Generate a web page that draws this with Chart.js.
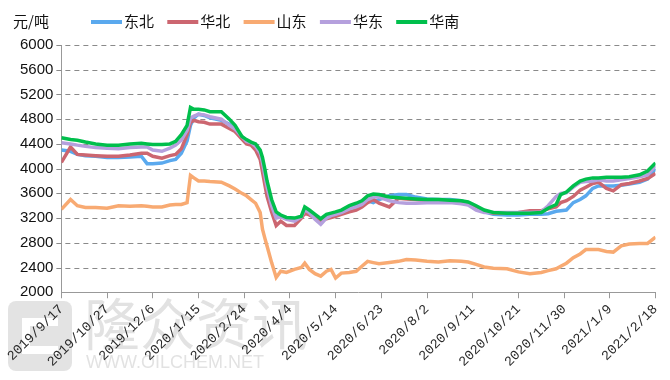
<!DOCTYPE html>
<html><head><meta charset="utf-8">
<script src="https://cdn.jsdelivr.net/npm/chart.js@4.4.1/dist/chart.umd.min.js"></script>
<style>html,body{margin:0;padding:0;background:#fff}#wrap{width:670px;height:380px}</style>
</head><body><div id="wrap"><canvas id="c" width="670" height="380"></canvas></div>
<script>
const unitLabel = '元/吨';
const seriesNames = ['东北', '华北', '山东', '华东', '华南'];
const tickLabels = ['2019/9/17','2019/10/27','2019/12/6','2020/1/15','2020/2/24','2020/4/4','2020/5/14','2020/6/23','2020/8/2','2020/9/11','2020/10/21','2020/11/30','2021/1/9','2021/2/18'];
// day offsets from 2019/9/17
const days = [0,8,14,21,30,40,50,60,70,75,80,88,95,100,105,110,113,116,120,125,130,140,147,152,158,162,166,170,174,176,178,180,184,188,192,197,204,210,213,217,222,227,232,236,240,245,252,258,263,268,273,278,287,295,302,310,320,330,340,350,356,363,370,378,390,400,410,420,426,433,437,442,448,454,459,465,470,477,483,490,497,506,513,520];
const dongbei = [4300,4280,4230,4210,4200,4180,4180,4190,4200,4080,4080,4090,4130,4150,4250,4450,4700,4820,4880,4860,4820,4780,4720,4620,4500,4420,4400,4330,4200,4050,3850,3650,3400,3250,3220,3200,3170,3220,3320,3300,3220,3150,3220,3260,3280,3300,3380,3400,3420,3480,3450,3500,3560,3580,3580,3540,3510,3500,3500,3480,3440,3350,3300,3260,3250,3250,3260,3260,3270,3310,3320,3330,3450,3500,3560,3680,3720,3720,3720,3730,3750,3780,3830,4000];
const huabei = [4100,4350,4230,4220,4210,4200,4200,4220,4250,4250,4200,4170,4210,4230,4320,4550,4750,4780,4760,4750,4720,4720,4650,4600,4480,4400,4380,4300,4150,3950,3750,3550,3300,3080,3150,3080,3080,3200,3280,3250,3200,3150,3190,3210,3230,3260,3300,3330,3380,3450,3500,3440,3380,3520,3510,3500,3480,3480,3480,3460,3450,3370,3310,3280,3280,3290,3320,3320,3350,3380,3450,3480,3550,3650,3700,3760,3780,3680,3640,3740,3760,3800,3840,3920];
const shandong = [3340,3500,3400,3370,3370,3360,3400,3390,3400,3390,3380,3380,3410,3420,3420,3450,3890,3850,3800,3800,3790,3780,3720,3670,3600,3560,3500,3440,3290,3020,2880,2750,2480,2240,2340,2320,2370,2400,2470,2370,2300,2260,2340,2370,2230,2310,2320,2340,2420,2500,2480,2460,2480,2500,2530,2520,2500,2490,2510,2500,2490,2450,2410,2390,2380,2330,2300,2320,2350,2380,2420,2470,2560,2620,2690,2690,2690,2660,2650,2750,2780,2790,2790,2890];
const huadong = [4420,4400,4380,4360,4340,4330,4320,4340,4350,4350,4300,4280,4330,4380,4460,4620,4820,4850,4880,4870,4840,4800,4700,4640,4520,4440,4420,4360,4250,4100,3900,3700,3400,3200,3220,3180,3150,3220,3330,3290,3180,3100,3200,3240,3260,3290,3350,3380,3420,3500,3540,3540,3480,3450,3440,3440,3450,3450,3450,3430,3410,3330,3290,3290,3290,3290,3290,3300,3400,3550,3600,3610,3700,3780,3790,3800,3820,3800,3800,3820,3840,3870,3900,4050];
const huanan = [4500,4470,4460,4430,4400,4380,4380,4400,4410,4400,4390,4390,4400,4440,4550,4700,4990,4960,4960,4950,4920,4920,4800,4700,4520,4470,4430,4400,4300,4180,4000,3800,3500,3300,3250,3210,3200,3230,3380,3330,3260,3190,3260,3280,3300,3330,3400,3440,3480,3560,3590,3580,3540,3530,3520,3510,3500,3500,3490,3480,3460,3400,3330,3290,3280,3280,3280,3290,3360,3420,3580,3620,3720,3800,3830,3850,3850,3860,3860,3860,3870,3900,3960,4090];
const yTicks = [2000,2400,2800,3200,3600,4000,4400,4800,5200,5600,6000];

const colors = ['#5aa9ee', '#cc6670', '#f8aa72', '#b5a0dd', '#00bf4c'];
const seriesValues = [dongbei, huabei, shandong, huadong, huanan];
const drawOrder = [5, 4, 3, 2, 1];

const datasets = seriesValues.map((vals, i) => ({
  label: seriesNames[i],
  data: days.map((d, k) => ({x: d, y: vals[k]})),
  borderColor: colors[i],
  backgroundColor: colors[i],
  borderWidth: 3.5,
  pointRadius: 0,
  tension: 0,
  order: drawOrder[i]
}));

const decor = {
  id: 'decor',
  beforeDraw(chart) {
    const ctx = chart.ctx;
    ctx.save();
    ctx.fillStyle = 'rgba(200,200,200,0.5)';
    ctx.beginPath();
    if (ctx.roundRect) ctx.roundRect(8, 301, 64, 70, 8); else ctx.rect(8, 301, 64, 70);
    ctx.fill();
    ctx.fillStyle = '#fff';
    ctx.fillRect(22, 318, 36, 8);
    ctx.fillRect(22, 318, 8, 36);
    ctx.fillRect(22, 346, 36, 8);
    ctx.fillStyle = 'rgba(190,190,190,0.45)';
    ctx.font = '56px "Noto Sans CJK SC"';
    ctx.textBaseline = 'alphabetic';
    ctx.fillText('隆众资讯', 84, 345);
    ctx.font = '18px "Liberation Sans"';
    ctx.fillText('WWW.OILCHEM.NET', 86, 368);
    ctx.restore();
  },
  beforeDatasetsDraw(chart) {
    // dashed horizontal gridlines at the y-axis ticks
    const ctx = chart.ctx, ys = chart.scales.y, area = chart.chartArea;
    ctx.save();
    ctx.strokeStyle = '#8a8a8a';
    ctx.lineWidth = 1;
    ctx.setLineDash([5, 4]);
    ys.ticks.forEach(t => {
      if (t.value === 2000) return;
      const y = Math.round(ys.getPixelForValue(t.value)) + 0.5;
      ctx.beginPath();
      ctx.moveTo(area.left - 5, y);
      ctx.lineTo(area.right, y);
      ctx.stroke();
    });
    ctx.restore();
  },
  afterDraw(chart) {
    const ctx = chart.ctx;
    ctx.save();
    ctx.textBaseline = 'middle';
    ctx.font = '15px "Noto Sans CJK SC"';
    ctx.fillStyle = '#111';
    ctx.fillText(unitLabel, 13, 21);
    const x0 = 91, step = 76.3;
    chart.data.datasets.forEach((ds, i) => {
      const x = x0 + i * step;
      ctx.fillStyle = ds.borderColor;
      ctx.fillRect(x, 20, 31, 4);
      ctx.fillStyle = '#111';
      ctx.fillText(ds.label, x + 33, 21);
    });
    ctx.restore();
  }
};

new Chart(document.getElementById('c'), {
  type: 'line',
  data: { datasets },
  options: {
    responsive: false,
    animation: false,
    devicePixelRatio: 1,
    layout: { padding: { top: 45, left: 12, right: 7, bottom: 7 } },
    plugins: { legend: { display: false }, tooltip: { enabled: false } },
    scales: {
      x: {
        type: 'linear',
        min: 0, max: 520,
        afterBuildTicks: (axis) => { axis.ticks = tickLabels.map((_, i) => ({ value: i * 40 })); },
        ticks: {
          autoSkip: false, maxRotation: 45, minRotation: 45,
          color: '#2a2a2a', font: { family: '"Liberation Mono"', size: 13.5 },
          padding: 3,
          callback: (v) => tickLabels[Math.round(v / 40)]
        },
        grid: { drawOnChartArea: false, drawTicks: true, tickLength: 6, color: '#999' },
        border: { display: true, color: '#999', width: 1 }
      },
      y: {
        min: 2000, max: 6000,
        afterBuildTicks: (axis) => { axis.ticks = yTicks.map(v => ({ value: v })); },
        ticks: {
          color: '#111', font: { family: '"Liberation Sans"', size: 15 }, padding: 8,
          callback: (v) => String(v)
        },
        grid: { display: false, drawTicks: false, tickLength: 5 },
        border: { display: true, color: '#999', width: 1 }
      }
    }
  },
  plugins: [decor]
});
</script>
</body></html>
